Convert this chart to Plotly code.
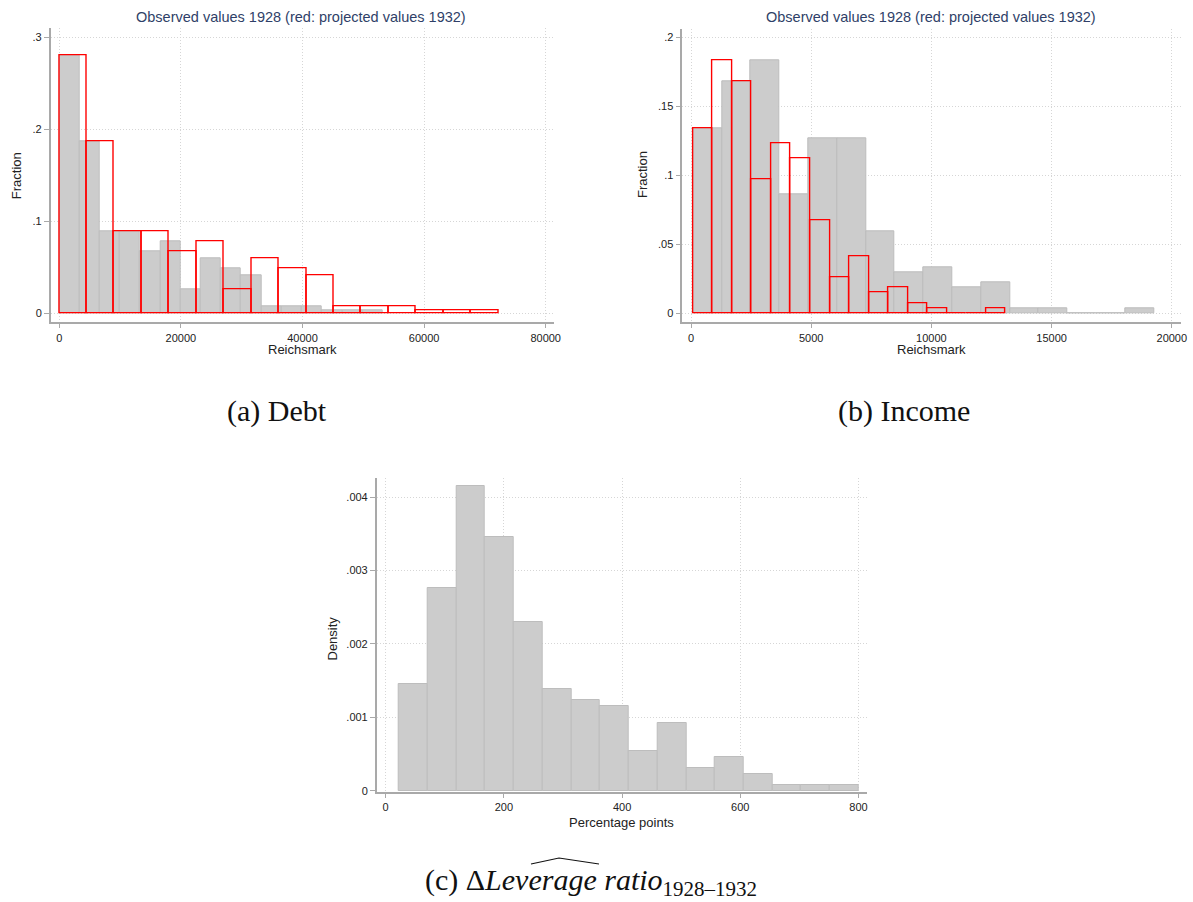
import plotly.graph_objects as go

W, H = 1193, 902

# ---------------- data ----------------
# (a) Debt, Reichsmark: fraction per bin
debt_bin_start_1928 = 0
debt_bin_width_1928 = 3324
debt_fraction_1928 = [0.280, 0.187, 0.0896, 0.0896, 0.0672, 0.0784, 0.0261, 0.0597,
                      0.0485, 0.0410, 0.0075, 0.0075, 0.0075, 0.0037, 0.0037, 0.0037]
debt_bin_start_1932 = 0
debt_bin_width_1932 = 4513
debt_fraction_1932 = [0.280, 0.187, 0.0896, 0.0896, 0.0672, 0.0784, 0.0261, 0.0597,
                      0.0485, 0.0410, 0.0075, 0.0075, 0.0075, 0.0037, 0.0037, 0.0037]

# (b) Income, Reichsmark: fraction per bin
income_bin_start_1928 = 83
income_bin_width_1928 = 1198.6
income_fraction_1928 = [0.134, 0.168, 0.183, 0.0858, 0.127, 0.127, 0.0597, 0.0299,
                        0.0336, 0.0187, 0.0224, 0.0037, 0.0037, 0.0, 0.0, 0.0037]
income_bin_start_1932 = 83
income_bin_width_1932 = 813
income_fraction_1932 = [0.134, 0.183, 0.168, 0.0970, 0.123, 0.112, 0.0672, 0.0261,
                        0.0410, 0.0149, 0.0187, 0.0075, 0.0037, 0.0, 0.0, 0.0037]

# (c) Change in leverage ratio, percentage points: density per bin
lev_bin_start = 22.5
lev_bin_width = 48.6
lev_density = [0.00145, 0.00276, 0.00415, 0.00345, 0.00230, 0.00138, 0.00123, 0.00115,
               0.00054, 0.00092, 0.00031, 0.00046, 0.00023, 0.000077, 0.000077, 0.000077]

debt_xticks = [0, 20000, 40000, 60000, 80000]
debt_yticks = [0, 0.1, 0.2, 0.3]
debt_yticklabels = ["0", ".1", ".2", ".3"]
income_xticks = [0, 5000, 10000, 15000, 20000]
income_yticks = [0, 0.05, 0.1, 0.15, 0.2]
income_yticklabels = ["0", ".05", ".1", ".15", ".2"]
lev_xticks = [0, 200, 400, 600, 800]
lev_yticks = [0, 0.001, 0.002, 0.003, 0.004]
lev_yticklabels = ["0", ".001", ".002", ".003", ".004"]

TITLE = "Observed values 1928 (red: projected values 1932)"

# ---------------- styling ----------------
SANS = "Liberation Sans, Arial, sans-serif"
SERIF = "Liberation Serif, Times New Roman, serif"
GRAY_FILL = "#cccccc"
GRAY_LINE = "#bdbdbd"
RED = "#ff0000"
AXIS = "#a9a9a9"
GRID = "#d6d6d6"
TITLE_COLOR = "#2f3f68"


def px(x):
    return x / W


def py(y):
    return 1 - y / H


def centers(start, width, n):
    return [start + width * (i + 0.5) for i in range(n)]


fig = go.Figure()


def add_hist(xa, ya, start, width, vals, red=False):
    n = len(vals)
    fig.add_trace(go.Bar(
        x=centers(start, width, n), y=vals, width=[width] * n,
        xaxis=xa, yaxis=ya,
        marker=dict(color="rgba(0,0,0,0)" if red else GRAY_FILL,
                    line=dict(color=RED if red else GRAY_LINE, width=1.4 if red else 1)),
        showlegend=False, hoverinfo="skip"))


add_hist("x", "y", debt_bin_start_1928, debt_bin_width_1928, debt_fraction_1928)
add_hist("x", "y", debt_bin_start_1932, debt_bin_width_1932, debt_fraction_1932, red=True)
add_hist("x2", "y2", income_bin_start_1928, income_bin_width_1928, income_fraction_1928)
add_hist("x2", "y2", income_bin_start_1932, income_bin_width_1932, income_fraction_1932, red=True)
add_hist("x3", "y3", lev_bin_start, lev_bin_width, lev_density)

common_axis = dict(showline=True, linecolor=AXIS, linewidth=1.5, ticks="outside",
                   ticklen=5, tickcolor=AXIS, tickwidth=1, showgrid=True, gridcolor=GRID,
                   griddash="1px,2px", gridwidth=1, zeroline=False, automargin=False,
                   tickfont=dict(family=SANS, size=11, color="#222222"), mirror=False)

fig.update_layout(
    width=W, height=H, margin=dict(l=0, r=0, t=0, b=0, autoexpand=False),
    paper_bgcolor="white", plot_bgcolor="white", barmode="overlay", bargap=0,
    xaxis=dict(domain=[px(50.7), px(554)], range=[-1414, 81365], anchor="y",
               tickvals=debt_xticks, ticktext=[str(v) for v in debt_xticks], **common_axis),
    yaxis=dict(domain=[py(321.7), py(28.3)], range=[-0.0091, 0.3095], anchor="x",
               tickvals=debt_yticks, ticktext=debt_yticklabels, **common_axis),
    xaxis2=dict(domain=[px(682.3), px(1180.7)], range=[-362, 20370], anchor="y2",
                tickvals=income_xticks, ticktext=[str(v) for v in income_xticks], **common_axis),
    yaxis2=dict(domain=[py(321.7), py(29.3)], range=[-0.0061, 0.2056], anchor="x2",
                tickvals=income_yticks, ticktext=income_yticklabels, **common_axis),
    xaxis3=dict(domain=[px(376.7), px(866.7)], range=[-15.2, 813.9], anchor="y3",
                tickvals=lev_xticks, ticktext=[str(v) for v in lev_xticks], **common_axis),
    yaxis3=dict(domain=[py(791.5), py(478)], range=[-0.00001, 0.00426], anchor="x3",
                tickvals=lev_yticks, ticktext=lev_yticklabels, **common_axis),
)


def ann(text, x, y, size, family=SANS, color="#222222", angle=0):
    fig.add_annotation(text=text, x=px(x), y=py(y), xref="paper", yref="paper",
                       showarrow=False, xanchor="center", yanchor="middle",
                       textangle=angle, font=dict(family=family, size=size, color=color))


# panel titles
ann(TITLE, 301.5, 17, 14.5, color=TITLE_COLOR)
ann(TITLE, 931, 17, 14.5, color=TITLE_COLOR)
# axis titles
ann("Fraction", 16.7, 175.5, 13, angle=-90)
ann("Fraction", 643, 175, 13, angle=-90)
ann("Reichsmark", 302, 350, 13)
ann("Reichsmark", 931, 350, 13)
ann("Density", 331.5, 639, 13, angle=-90)
ann("Percentage points", 621, 822, 13)
# captions
ann("(a) Debt", 276.7, 411, 30, family=SERIF, color="#111111")
ann("(b) Income", 904, 411, 30, family=SERIF, color="#111111")
ann("(c) \u0394<i>Leverage ratio</i><sub>1928\u20131932</sub>", 590.5, 882, 30,
    family=SERIF, color="#111111")

# wide hat over the leverage ratio symbol
fig.add_shape(type="path", xref="paper", yref="paper",
              path=f"M {px(531)} {py(864)} L {px(559)} {py(858)} L {px(599)} {py(864)}",
              line=dict(color="#111111", width=1.2))

fig.write_html("out.html",
               config={"displayModeBar": False},
               post_script="document.body.style.margin='0px';"
                           "document.body.style.overflow='hidden';")
